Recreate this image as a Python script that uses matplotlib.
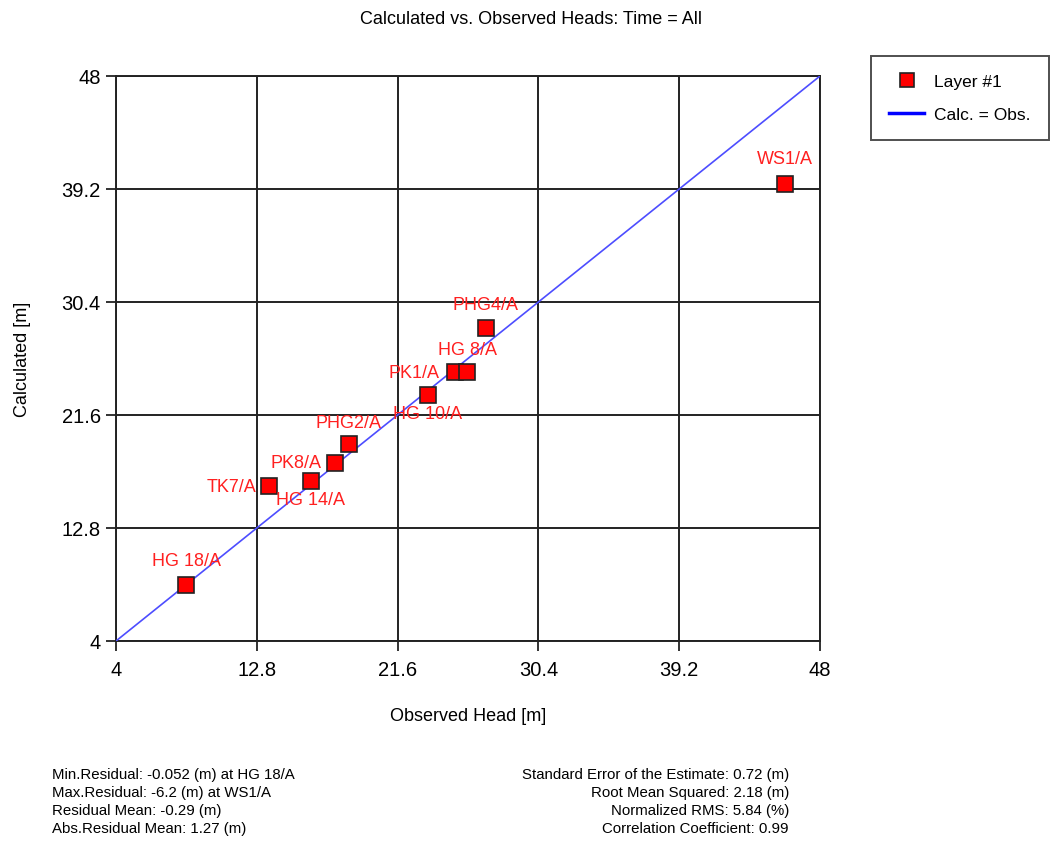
import matplotlib
matplotlib.use("Agg")
import matplotlib.pyplot as plt
from matplotlib.lines import Line2D

plt.rcParams['font.family'] = ['Liberation Sans', 'DejaVu Sans']

# observed vs calculated heads per well (m)
wells = ['HG 18/A', 'TK7/A', 'HG 14/A', 'PK8/A', 'PHG2/A',
         'HG 10/A', 'PK1/A', 'HG 8/A', 'PHG4/A', 'WS1/A']
observed = [8.40, 13.59, 16.18, 17.71, 18.55, 23.49, 25.16, 25.95, 27.10, 45.80]
calculated = [8.35, 16.07, 16.46, 17.89, 19.31, 23.16, 24.92, 24.92, 28.40, 39.62]

ticks = [4, 12.8, 21.6, 30.4, 39.2, 48]
tick_labels = ['4', '12.8', '21.6', '30.4', '39.2', '48']

stats_left = ['Min.Residual: -0.052 (m) at HG 18/A',
              'Max.Residual: -6.2 (m) at WS1/A',
              'Residual Mean: -0.29 (m)',
              'Abs.Residual Mean: 1.27 (m)']
stats_right = ['Standard Error of the Estimate: 0.72 (m)',
               'Root Mean Squared: 2.18 (m)',
               'Normalized RMS: 5.84 (%)',
               'Correlation Coefficient: 0.99']

# label placement: (dx, dy) in pixels, horizontal alignment
label_pos = {
    'HG 18/A': (0, 25, 'center'),
    'TK7/A': (-13, 0, 'right'),
    'HG 14/A': (0, -18, 'center'),
    'PK8/A': (-14, 0, 'right'),
    'PHG2/A': (0, 22, 'center'),
    'HG 10/A': (0, -19, 'center'),
    'PK1/A': (-15, 0, 'right'),
    'HG 8/A': (0, 23, 'center'),
    'PHG4/A': (0, 23, 'center'),
    'WS1/A': (0, 25, 'center'),
}

fig = plt.figure(figsize=(10.52, 8.45), dpi=100)
ax = fig.add_axes([116 / 1052, 1 - 642 / 845, 704 / 1052, 565 / 845])

ax.set_xlim(4, 48)
ax.set_ylim(4, 48)
ax.set_xticks(ticks)
ax.set_yticks(ticks)
ax.set_xticklabels(tick_labels)
ax.set_yticklabels(tick_labels)
ax.tick_params(direction='out', length=7, width=1.3, color='#222222',
               labelsize=14.5)
ax.tick_params(axis='x', pad=7)
ax.tick_params(axis='y', pad=4)
ax.grid(True, color='#222222', lw=1.4)
for s in ax.spines.values():
    s.set_color('#222222')
    s.set_linewidth(1.4)

ax.plot([4, 48], [4, 48], color='#4d4dff', lw=1.2, zorder=3)
ax.plot(observed, calculated, ls='none', marker='s', ms=11.5,
        mfc='red', mec='#222222', mew=1.2, zorder=4)

for name, x, y in zip(wells, observed, calculated):
    dx, dy, ha = label_pos[name]
    ax.annotate(name, (x, y), xytext=(dx, dy), textcoords='offset pixels',
                ha=ha, va='center', color='#ff2020', fontsize=13, zorder=5)

ax.set_xlabel('Observed Head [m]', fontsize=13, labelpad=20)
ax.set_ylabel('Calculated [m]', fontsize=13, labelpad=22)

fig.text(531 / 1052, 1 - 19 / 845, 'Calculated vs. Observed Heads: Time = All',
         ha='center', va='center', fontsize=13)

for i, line in enumerate(stats_left):
    fig.text(52 / 1052, 1 - (775 + 18 * i) / 845, line,
             ha='left', va='center', fontsize=10.8)
for i, line in enumerate(stats_right):
    fig.text(789 / 1052, 1 - (775 + 18 * i) / 845, line,
             ha='right', va='center', fontsize=10.8)

handles = [
    Line2D([], [], ls='none', marker='s', ms=10, mfc='red', mec='#222222',
           mew=1.2, label='Layer #1'),
    Line2D([], [], color='blue', lw=2.5, label='Calc. = Obs.'),
]
leg = fig.legend(handles=handles, loc='upper left',
                 bbox_to_anchor=(871 / 1052, 1 - 57 / 845),
                 fontsize=12.5, frameon=True, fancybox=False,
                 edgecolor='#222222', handlelength=2.0, borderpad=1.05,
                 labelspacing=1.0, handletextpad=0.6, borderaxespad=0)
leg.get_frame().set_linewidth(1.4)

fig.savefig('out.png', dpi=100)
